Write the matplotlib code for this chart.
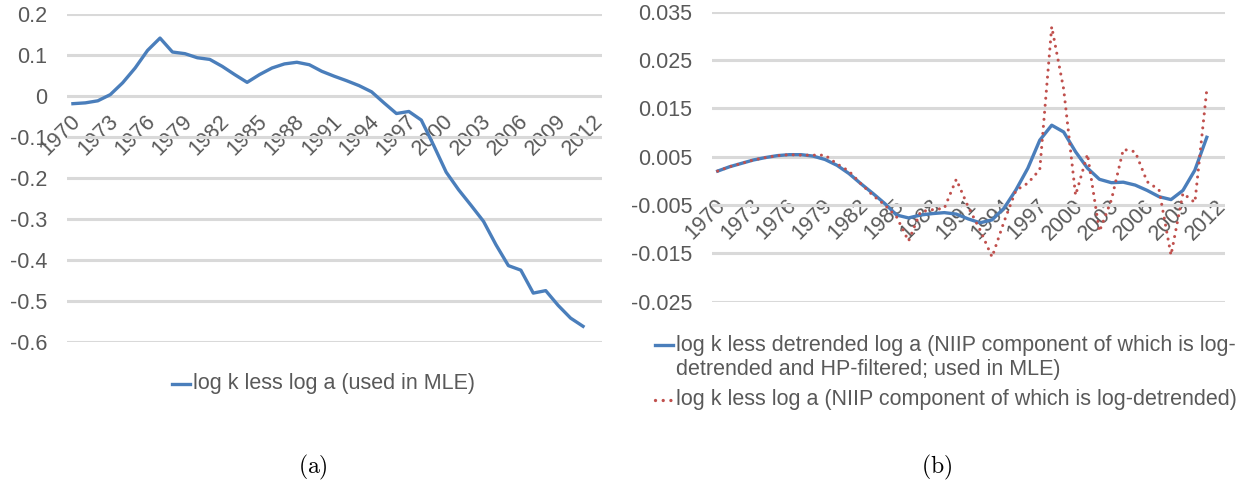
import numpy as np
import matplotlib
matplotlib.use("Agg")
import matplotlib.pyplot as plt
import matplotlib.transforms as mtransforms
from matplotlib.lines import Line2D

plt.rcParams['font.family'] = ['Liberation Sans', 'DejaVu Sans']
plt.rcParams['mathtext.fontset'] = 'cm'

years = list(range(1970, 2013))
year_labels = [str(y) if (y - 1970) % 3 == 0 else '' for y in years]

# panel (a): log k less log a, 1970-2011 (2012 has no value)
k_less_a = [-0.018, -0.016, -0.011, 0.004, 0.033, 0.069, 0.112, 0.142, 0.108, 0.104,
            0.094, 0.090, 0.073, 0.053, 0.034, 0.053, 0.069, 0.079, 0.083, 0.077,
            0.061, 0.049, 0.038, 0.026, 0.011, -0.016, -0.042, -0.037, -0.058, -0.120,
            -0.185, -0.228, -0.266, -0.305, -0.362, -0.413, -0.424, -0.480, -0.474, -0.510,
            -0.541, -0.561, np.nan]

# panel (b): HP-filtered version and log-detrended version
k_less_detr_hp = [0.0020, 0.0029, 0.0036, 0.0043, 0.0048, 0.0052, 0.0054, 0.0054, 0.0051, 0.0044,
                  0.0032, 0.0015, -0.0006, -0.0026, -0.0047, -0.0071, -0.0077, -0.0071, -0.0068, -0.0066,
                  -0.0069, -0.0079, -0.0087, -0.0081, -0.0057, -0.0019, 0.0026, 0.0084, 0.0115, 0.0101,
                  0.0060, 0.0026, 0.0003, -0.0004, -0.0003, -0.0009, -0.0020, -0.0033, -0.0039, -0.0020,
                  0.0022, 0.0090, np.nan]
k_less_detr = [0.0020, 0.0029, 0.0036, 0.0043, 0.0048, 0.0052, 0.0054, 0.0053, 0.0053, 0.0053,
               0.0035, 0.0020, -0.0006, -0.0030, -0.0050, -0.0075, -0.0125, -0.0064, -0.0060, -0.0057,
               0.0003, -0.0054, -0.0102, -0.0158, -0.0085, -0.0020, -0.0005, 0.0023, 0.0319, 0.0190,
               -0.0030, 0.0055, -0.0105, -0.0040, 0.0065, 0.0060, -0.0002, -0.0019, -0.0154, -0.0026,
               -0.0045, 0.0189, np.nan]

left_ticks = [0.2, 0.1, 0, -0.1, -0.2, -0.3, -0.4, -0.5, -0.6]
left_ticklabels = ['0.2', '0.1', '0', '-0.1', '-0.2', '-0.3', '-0.4', '-0.5', '-0.6']
right_ticks = [0.035, 0.025, 0.015, 0.005, -0.005, -0.015, -0.025]
right_ticklabels = ['0.035', '0.025', '0.015', '0.005', '-0.005', '-0.015', '-0.025']

W, H = 1244, 492
BLUE = '#4A7EBB'
RED = '#C0504D'
GREY_TXT = '#595959'
GRID = '#D9D9D9'
FS = 15.5

fig = plt.figure(figsize=(W / 100, H / 100), dpi=100)


def fx(px):
    return px / W


def fy(py):
    return 1 - py / H


def style_axes(ax, ticks, ticklabels, ylim):
    x = np.arange(len(years))
    ax.set_xlim(-0.5, len(years) - 0.5)
    ax.set_ylim(*ylim)
    ax.set_yticks(ticks)
    ax.set_yticklabels(ticklabels)
    ax.set_xticks(x)
    ax.set_xticklabels(year_labels)
    ax.spines['bottom'].set_position(('data', 0))
    for s in ax.spines.values():
        s.set_visible(False)
    ax.tick_params(axis='y', length=0, pad=14, labelsize=FS, labelcolor=GREY_TXT)
    ax.tick_params(axis='x', length=0, pad=10.5, labelsize=FS, labelcolor=GREY_TXT)
    # year labels sit slanted under the zero line, end of text near the category
    shift = mtransforms.ScaledTranslation(-3 / 100, 0, fig.dpi_scale_trans)
    for lab in ax.get_xticklabels():
        lab.set_rotation(45)
        lab.set_rotation_mode('anchor')
        lab.set_horizontalalignment('right')
        lab.set_verticalalignment('top')
        lab.set_transform(lab.get_transform() + shift)
    ax.yaxis.grid(True, color=GRID, linewidth=2.2)
    ax.set_axisbelow(True)
    ax.patch.set_visible(False)


ax1 = fig.add_axes([fx(66.7), fy(342.3), fx(601.7) - fx(66.7), fy(14.3) - fy(342.3)])
style_axes(ax1, left_ticks, left_ticklabels, (-0.6, 0.2))
ax1.plot(np.arange(len(years)), k_less_a, color=BLUE, lw=2.4, solid_joinstyle='round', zorder=3)

ax2 = fig.add_axes([fx(711.7), fy(301.5), fx(1224.7) - fx(711.7), fy(11.7) - fy(301.5)])
style_axes(ax2, right_ticks, right_ticklabels, (-0.025, 0.035))
ax2.plot(np.arange(len(years)), k_less_detr_hp, color=BLUE, lw=2.4, solid_joinstyle='round', zorder=3)
ax2.plot(np.arange(len(years)), k_less_detr, color=RED, lw=2.2,
         linestyle=(0, (0.01, 2.3)), dash_capstyle='round', zorder=4)

# legends drawn Excel-style: short handle, text right next to it
def legend_entry(x0, y, color, style, lines, dy=25):
    ls = '-' if style == 'solid' else (0, (0.01, 2.3))
    fig.add_artist(Line2D([fx(x0), fx(x0 + 18)], [fy(y), fy(y)], color=color, lw=2.4,
                          linestyle=ls, dash_capstyle='round', transform=fig.transFigure))
    for k, t in enumerate(lines):
        fig.text(fx(x0 + 21), fy(y + k * dy), t, fontsize=FS, color=GREY_TXT,
                 ha='left', va='center')


legend_entry(172, 384, BLUE, 'solid', ['log k less log a (used in MLE)'])
legend_entry(655, 345, BLUE, 'solid',
             ['log k less detrended log a (NIIP component of which is log-',
              'detrended and HP-filtered; used in MLE)'])
legend_entry(655, 400, RED, 'dotted',
             ['log k less log a (NIIP component of which is log-detrended)'])

fig.text(fx(313), fy(467), r'$\mathrm{(a)}$', fontsize=17, ha='center', va='center')
fig.text(fx(937), fy(467), r'$\mathrm{(b)}$', fontsize=17, ha='center', va='center')

fig.savefig('out.png', dpi=100)
